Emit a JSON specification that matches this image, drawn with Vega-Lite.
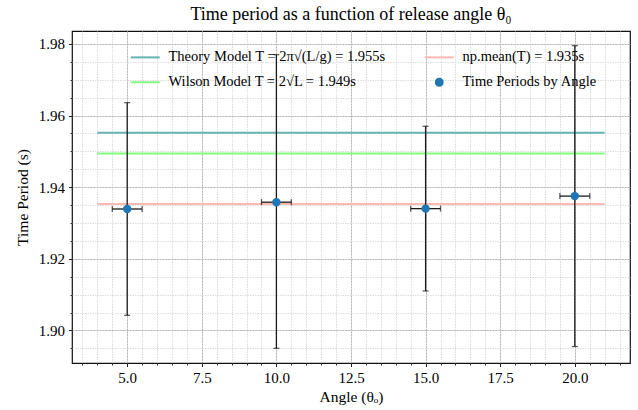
{
  "$schema": "https://vega.github.io/schema/vega-lite/v6.json",
  "autosize": {"type": "none"},
  "width": 558,
  "height": 332,
  "padding": {"left": 72, "top": 31, "right": 8, "bottom": 47},
  "background": "white",
  "title": {"text": "Time period as a function of release angle θ₀", "fontSize": 18, "font": "Liberation Serif", "fontWeight": "normal", "offset": 7, "color": "black"},
  "data": {"values": [
    {"series": "Time Periods by Angle", "angle": 5, "T": 1.9339, "Tlo": 1.9042, "Thi": 1.9636, "Alo": 4.5, "Ahi": 5.5},
    {"series": "Time Periods by Angle", "angle": 10, "T": 1.9358, "Tlo": 1.8950, "Thi": 1.9770, "Alo": 9.5, "Ahi": 10.5},
    {"series": "Time Periods by Angle", "angle": 15, "T": 1.9340, "Tlo": 1.9110, "Thi": 1.9570, "Alo": 14.5, "Ahi": 15.5},
    {"series": "Time Periods by Angle", "angle": 20, "T": 1.9375, "Tlo": 1.8955, "Thi": 1.9795, "Alo": 19.5, "Ahi": 20.5},
    {"series": "Theory Model T = 2π√(L/g) = 1.955s", "T": 1.9552, "x1": 4, "x2": 21},
    {"series": "Wilson Model T = 2√L = 1.949s", "T": 1.9494, "x1": 4, "x2": 21},
    {"series": "np.mean(T) = 1.935s", "T": 1.9353, "x1": 4, "x2": 21}
  ]},
  "resolve": {"axis": {"x": "independent", "y": "independent"}},
  "layer": [
    {
      "transform": [{"filter": "isValid(datum.x1)"}],
      "mark": {"type": "rule", "strokeWidth": 2},
      "encoding": {
        "x": {"field": "x1", "type": "quantitative", "scale": {"domain": [3.15, 21.85], "nice": false, "zero": false},
          "axis": {"orient": "bottom", "values": [3.5,4,4.5,5,5.5,6,6.5,7,7.5,8,8.5,9,9.5,10,10.5,11,11.5,12,12.5,13,13.5,14,14.5,15,15.5,16,16.5,17,17.5,18,18.5,19,19.5,20,20.5,21,21.5], "labels": false, "title": null, "domain": false, "tickSize": 2, "tickColor": "#333", "grid": true, "gridColor": "#d4d4d4", "gridDash": [1.5, 1], "gridWidth": 0.8, "zindex": 0}},
        "x2": {"field": "x2"},
        "y": {"field": "T", "type": "quantitative", "scale": {"domain": [1.8909, 1.9836], "nice": false, "zero": false},
          "axis": {"orient": "left", "values": [1.895,1.9,1.905,1.91,1.915,1.92,1.925,1.93,1.935,1.94,1.945,1.95,1.955,1.96,1.965,1.97,1.975,1.98], "labels": false, "title": null, "domain": false, "tickSize": 2, "tickColor": "#333", "grid": true, "gridColor": "#d4d4d4", "gridDash": [1.5, 1], "gridWidth": 0.8, "zindex": 0}},
        "stroke": {"field": "series", "type": "nominal", "title": null,
          "scale": {"domain": ["Theory Model T = 2π√(L/g) = 1.955s", "Wilson Model T = 2√L = 1.949s", "np.mean(T) = 1.935s", "Time Periods by Angle"], "range": ["#66b3b3", "#80ff80", "#fcb9b2", "#1f77b4"]},
          "legend": {"orient": "none", "legendX": 66, "legendY": 19, "columns": 2}}
      }
    },
    {
      "transform": [{"filter": "isValid(datum.angle)"}],
      "mark": {"type": "errorbar", "ticks": {"size": 6}, "color": "#1a1a1a", "thickness": 1.3},
      "encoding": {
        "x": {"field": "angle", "type": "quantitative", "axis": null},
        "y": {"field": "Tlo", "type": "quantitative", "axis": null},
        "y2": {"field": "Thi"}
      }
    },
    {
      "transform": [{"filter": "isValid(datum.angle)"}],
      "mark": {"type": "errorbar", "ticks": {"size": 6}, "color": "#1a1a1a", "thickness": 1.3},
      "encoding": {
        "x": {"field": "Alo", "type": "quantitative", "axis": null},
        "x2": {"field": "Ahi"},
        "y": {"field": "T", "type": "quantitative", "axis": null}
      }
    },
    {
      "mark": {"type": "point", "filled": true, "size": 48, "strokeWidth": 1.5, "opacity": 1},
      "encoding": {
        "x": {"field": "angle", "type": "quantitative",
          "axis": {"orient": "bottom", "values": [5, 7.5, 10, 12.5, 15, 17.5, 20], "format": ".1f", "title": "Angle (θₒ)", "grid": true, "gridColor": "#a8a8a8", "gridDash": [2, 1], "gridWidth": 0.8, "domain": false, "tickSize": 3.5, "tickColor": "#222", "zindex": 0}},
        "y": {"field": "T", "type": "quantitative",
          "axis": {"orient": "left", "values": [1.9, 1.92, 1.94, 1.96, 1.98], "format": ".2f", "title": "Time Period (s)", "grid": true, "gridColor": "#a8a8a8", "gridDash": [2, 1], "gridWidth": 0.8, "domain": false, "tickSize": 3.5, "tickColor": "#222", "zindex": 0}},
        "fill": {"field": "series", "type": "nominal", "title": null,
          "scale": {"domain": ["Theory Model T = 2π√(L/g) = 1.955s", "Wilson Model T = 2√L = 1.949s", "np.mean(T) = 1.935s", "Time Periods by Angle"], "range": ["#66b3b3", "#80ff80", "#fcb9b2", "#1f77b4"]},
          "legend": {"orient": "none", "legendX": 66, "legendY": 19, "columns": 2}},
        "stroke": {"field": "series", "type": "nominal", "title": null,
          "legend": {"orient": "none", "legendX": 66, "legendY": 19, "columns": 2}},
        "shape": {"field": "series", "type": "nominal", "title": null,
          "scale": {"domain": ["Theory Model T = 2π√(L/g) = 1.955s", "Wilson Model T = 2√L = 1.949s", "np.mean(T) = 1.935s", "Time Periods by Angle"], "range": ["M-4.2,0L4.2,0", "M-4.2,0L4.2,0", "M-4.2,0L4.2,0", "circle"]},
          "legend": {"orient": "none", "legendX": 66, "legendY": 19, "columns": 2}}
      }
    }
  ],
  "config": {
    "font": "Liberation Serif",
    "view": {"stroke": "#111", "strokeWidth": 1.2},
    "axis": {"labelFont": "Liberation Serif", "titleFont": "Liberation Serif", "labelFontSize": 15, "titleFontSize": 15.5, "titleFontWeight": "normal", "labelColor": "black", "titleColor": "black", "labelPadding": 4},
    "axisX": {"titlePadding": 4},
    "axisY": {"titlePadding": 8},
    "legend": {"padding": 0, "symbolSize": 48, "symbolStrokeWidth": 2, "labelFont": "Liberation Serif", "labelFontSize": 14.5, "labelColor": "black", "labelOffset": 16, "rowPadding": 10, "columnPadding": 34, "labelLimit": 400}
  }
}
